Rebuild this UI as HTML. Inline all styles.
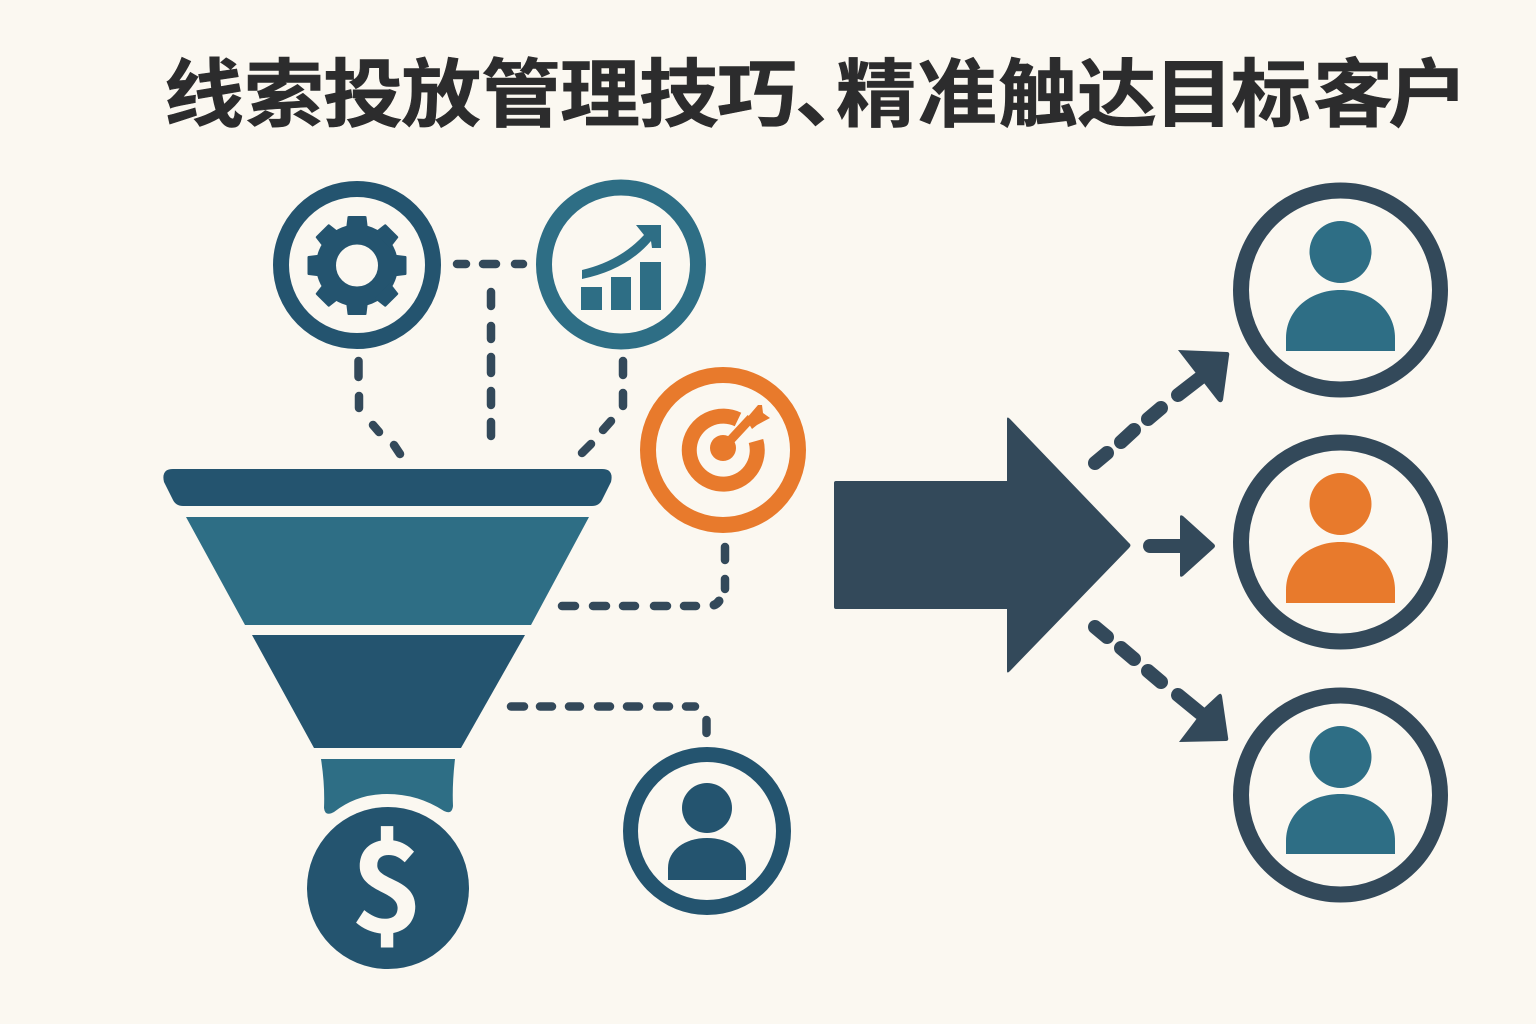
<!DOCTYPE html>
<html lang="zh">
<head>
<meta charset="utf-8">
<title>线索投放管理技巧、精准触达目标客户</title>
<style>
html,body{margin:0;padding:0;background:#fbf8f1;}
svg{display:block;}
.t{font-family:"Liberation Sans","Noto Sans CJK SC",sans-serif;font-weight:700;font-size:80px;fill:#2c2c2d;stroke:#2c2c2d;stroke-width:.6px;}
</style>
</head>
<body>
<svg width="1536" height="1024" viewBox="0 0 1536 1024" xmlns="http://www.w3.org/2000/svg">
<rect width="1536" height="1024" fill="#fbf8f1"/>

<text class="t" transform="translate(0 120.500) scale(1 .93)" y="0" x="164 244 323 401 481 560 639 717 795 836 917 998 1077 1154 1231 1313 1388">线索投放管理技巧、精准触达目标客户</text>

<!-- funnel -->
<path d="M173 469H602Q614 469 611 482L602 500Q599 506 592 506H183Q176 506 173 500L164 482Q161 469 173 469Z" fill="#24546f"/>
<polygon points="186,517 589,517 531,625 245,625" fill="#2e6e85"/>
<polygon points="252,635 525,635 461,748 314,748" fill="#24546f"/>
<path d="M321 759H455Q452 785 453 806Q452 815 444 811Q418 794 387 794Q357 794 334 812Q325 817 324 808Q325 785 321 759Z" fill="#2e6e85"/>

<!-- coin -->
<circle cx="388" cy="888" r="81" fill="#24546f"/>
<text x="387" y="932" text-anchor="middle" font-family="Noto Sans CJK SC, Liberation Sans, sans-serif" font-weight="700" font-size="125" fill="#fbf8f1">$</text>

<!-- gear -->
<circle cx="357" cy="265" r="76" fill="none" stroke="#24546f" stroke-width="16"/>
<g transform="translate(357 265.5)" fill="#24546f">
<circle r="31" fill="none" stroke="#24546f" stroke-width="20"/>
<path d="M-11 -36L-9.500 -48.500Q-9.500 -49.500 -8 -49.500H8Q9.500 -49.500 9.500 -48.500L11 -36Z"/>
<path transform="rotate(45)" d="M-11 -36L-9.500 -48.500Q-9.500 -49.500 -8 -49.500H8Q9.500 -49.500 9.500 -48.500L11 -36Z"/>
<path transform="rotate(90)" d="M-11 -36L-9.500 -48.500Q-9.500 -49.500 -8 -49.500H8Q9.500 -49.500 9.500 -48.500L11 -36Z"/>
<path transform="rotate(135)" d="M-11 -36L-9.500 -48.500Q-9.500 -49.500 -8 -49.500H8Q9.500 -49.500 9.500 -48.500L11 -36Z"/>
<path transform="rotate(180)" d="M-11 -36L-9.500 -48.500Q-9.500 -49.500 -8 -49.500H8Q9.500 -49.500 9.500 -48.500L11 -36Z"/>
<path transform="rotate(225)" d="M-11 -36L-9.500 -48.500Q-9.500 -49.500 -8 -49.500H8Q9.500 -49.500 9.500 -48.500L11 -36Z"/>
<path transform="rotate(270)" d="M-11 -36L-9.500 -48.500Q-9.500 -49.500 -8 -49.500H8Q9.500 -49.500 9.500 -48.500L11 -36Z"/>
<path transform="rotate(315)" d="M-11 -36L-9.500 -48.500Q-9.500 -49.500 -8 -49.500H8Q9.500 -49.500 9.500 -48.500L11 -36Z"/>
</g>

<!-- chart -->
<circle cx="621" cy="264.500" r="77" fill="none" stroke="#2e6e85" stroke-width="16"/>
<g fill="#2e6e85">
<rect x="581" y="287" width="21" height="23"/>
<rect x="611" y="277" width="20" height="33"/>
<rect x="640" y="262" width="21" height="48"/>
<path d="M582 270Q620 261 644 235L636 225H661V248H652L651 241Q626 270 582 279Z"/>
</g>

<!-- target -->
<circle cx="723" cy="450" r="75" fill="none" stroke="#e87a2c" stroke-width="16"/>
<path d="M738 419.500A34 34 0 1 0 756 441" fill="none" stroke="#e87a2c" stroke-width="15"/>
<g fill="#e87a2c">
<circle cx="723" cy="448" r="13"/>
<path d="M725 446L751 418" fill="none" stroke="#e87a2c" stroke-width="9"/>
<path d="M746 419L758 405H762L763 413L770 418L757 425L752 429Z"/>
</g>

<!-- bottom user -->
<circle cx="707" cy="831" r="76.500" fill="none" stroke="#24546f" stroke-width="15"/>
<circle cx="707" cy="808" r="25" fill="#24546f"/>
<path d="M668 880V868C668 850 685 838 707 838C729 838 746 850 746 868V880Z" fill="#24546f"/>

<!-- connectors -->
<g fill="none" stroke="#33495a" stroke-width="8.500" stroke-linecap="round">
<path d="M457 264H466M483 264H496M515 264H523"/>
<path d="M491 292V306M491 326V339M491 357V373M491 391V405M491 422V436"/>
<path d="M358.500 361V377M359 396V408M373 425L379 432M394 445L400 454"/>
<path d="M623 361V375M623 393V406M611 421L603 430M591 444L582 453"/>
<path d="M725 547V560M725 579V589"/>
<path d="M562 606H575M593 606H606M623 606H635M654 606H667M684 606H696"/>
<path d="M714 605Q717 604 719 601" stroke-width="9"/>
<path d="M511 706.500H524M540 706.500H552M569 706.500H580M598 706.500H610M627 706.500H639M657 706.500H669M686 706.500H695"/>
<path d="M706.500 720V733"/>
</g>

<!-- big arrow -->
<path d="M836 481H1007V419Q1007 416 1010 419L1129 543Q1132 545 1129 548L1010 671Q1007 674 1007 671V609H836Q834 609 834 607V483Q834 481 836 481Z" fill="#33495a"/>

<!-- small arrows -->
<g fill="none" stroke="#33495a" stroke-width="14" stroke-linecap="round">
<path d="M1095 463L1107 453M1121 442L1134 430M1148 419L1161 408M1178 395L1200 378"/>
<path d="M1095 627L1107 637M1121 648L1134 659M1148 671L1161 682M1178 695L1200 713"/>
<path d="M1150 546H1185"/>
</g>
<g fill="#33495a">
<path d="M1178 350L1227 352Q1230 352 1229 356L1223 400Q1221 404 1218 401L1204 383L1195 372Z"/>
<path d="M1179 742L1226 741Q1229 741 1228 737L1222 696Q1221 692 1218 695L1204 708L1195 721Z"/>
<path d="M1180 517Q1180 514 1183 516L1214 544Q1216 546 1214 548L1183 576Q1180 578 1180 575Z"/>
</g>

<!-- right users -->
<g fill="none" stroke="#33495a" stroke-width="16">
<circle cx="1340.500" cy="290" r="99.500"/>
<circle cx="1340.500" cy="542" r="99.500"/>
<circle cx="1340.500" cy="795" r="99.500"/>
</g>
<g fill="#2e6e85">
<circle cx="1340.500" cy="252" r="31"/>
<path d="M1286 351V338C1286 310 1310 290 1340.500 290C1371 290 1395 310 1395 338V351Z"/>
</g>
<g fill="#e87a2c">
<circle cx="1340.500" cy="504" r="31"/>
<path d="M1286 603V590C1286 562 1310 542 1340.500 542C1371 542 1395 562 1395 590V603Z"/>
</g>
<g fill="#2e6e85">
<circle cx="1340.500" cy="757" r="31"/>
<path d="M1286 854V841C1286 813 1310 794 1340.500 794C1371 794 1395 813 1395 841V854Z"/>
</g>
</svg>
</body>
</html>
